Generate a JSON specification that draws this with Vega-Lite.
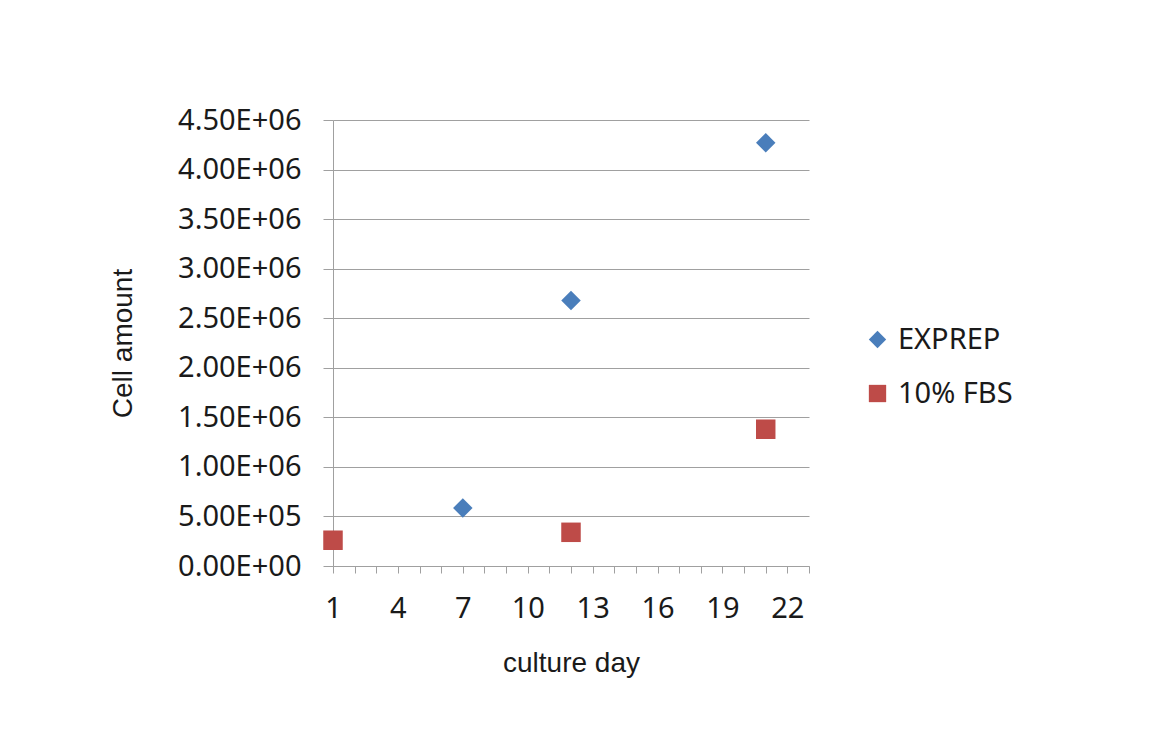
{
  "$schema": "https://vega.github.io/schema/vega-lite/v6.json",
  "autosize": {"type": "none"},
  "width": 476,
  "height": 446,
  "padding": {"left": 333, "top": 120, "right": 358, "bottom": 183},
  "background": "white",
  "data": {
    "values": [
      {"day": 7, "cells": 585000, "series": "EXPREP"},
      {"day": 12, "cells": 2680000, "series": "EXPREP"},
      {"day": 21, "cells": 4270000, "series": "EXPREP"},
      {"day": 1, "cells": 260000, "series": "10% FBS"},
      {"day": 12, "cells": 340000, "series": "10% FBS"},
      {"day": 21, "cells": 1380000, "series": "10% FBS"}
    ]
  },
  "mark": {"type": "point", "filled": true, "opacity": 1, "size": 380},
  "encoding": {
    "x": {
      "field": "day",
      "type": "quantitative",
      "scale": {"domain": [1, 23], "nice": false, "zero": false},
      "axis": {
        "title": "culture day",
        "values": [1,2,3,4,5,6,7,8,9,10,11,12,13,14,15,16,17,18,19,20,21,22,23],
        "labelExpr": "(datum.value - 1) % 3 == 0 && datum.value < 23 ? datum.label : ''",
        "labelFlush": false,
        "grid": false,
        "domainColor": "#a0a0a0",
        "tickColor": "#a0a0a0",
        "tickSize": 7,
        "labelFont": "Noto Sans",
        "labelFontSize": 29,
        "labelColor": "#1a1a1a",
        "labelPadding": 21,
        "labelOverlap": false,
        "titleFont": "Liberation Sans",
        "titleFontSize": 28,
        "titleFontWeight": "normal",
        "titleColor": "#1a1a1a",
        "titlePadding": 26
      }
    },
    "y": {
      "field": "cells",
      "type": "quantitative",
      "scale": {"domain": [0, 4500000], "nice": false},
      "axis": {
        "title": "Cell amount",
        "values": [0,500000,1000000,1500000,2000000,2500000,3000000,3500000,4000000,4500000],
        "labelExpr": "datum.value == 0 ? '0.00E+00' : (datum.value < 1000000 ? format(datum.value / 100000, '.2f') + 'E+05' : format(datum.value / 1000000, '.2f') + 'E+06')",
        "grid": true,
        "gridColor": "#a0a0a0",
        "domainColor": "#a0a0a0",
        "tickColor": "#a0a0a0",
        "tickSize": 10,
        "labelFont": "Noto Sans",
        "labelFontSize": 29,
        "labelColor": "#1a1a1a",
        "labelPadding": 22,
        "titleFont": "Liberation Sans",
        "titleFontSize": 28,
        "titleFontWeight": "normal",
        "titleColor": "#1a1a1a",
        "titlePadding": 40
      }
    },
    "color": {
      "field": "series",
      "type": "nominal",
      "scale": {"domain": ["EXPREP", "10% FBS"], "range": ["#4a7ebb", "#be4b48"]},
      "legend": {
        "title": null,
        "orient": "none",
        "legendX": 530,
        "legendY": 205,
        "labelFont": "Noto Sans",
        "labelFontSize": 29,
        "labelColor": "#1a1a1a",
        "rowPadding": 24,
        "symbolSize": 300,
        "labelOffset": 6
      }
    },
    "shape": {
      "field": "series",
      "type": "nominal",
      "scale": {"domain": ["EXPREP", "10% FBS"], "range": ["diamond", "square"]},
      "legend": null
    }
  },
  "config": {"view": {"stroke": null}}
}
